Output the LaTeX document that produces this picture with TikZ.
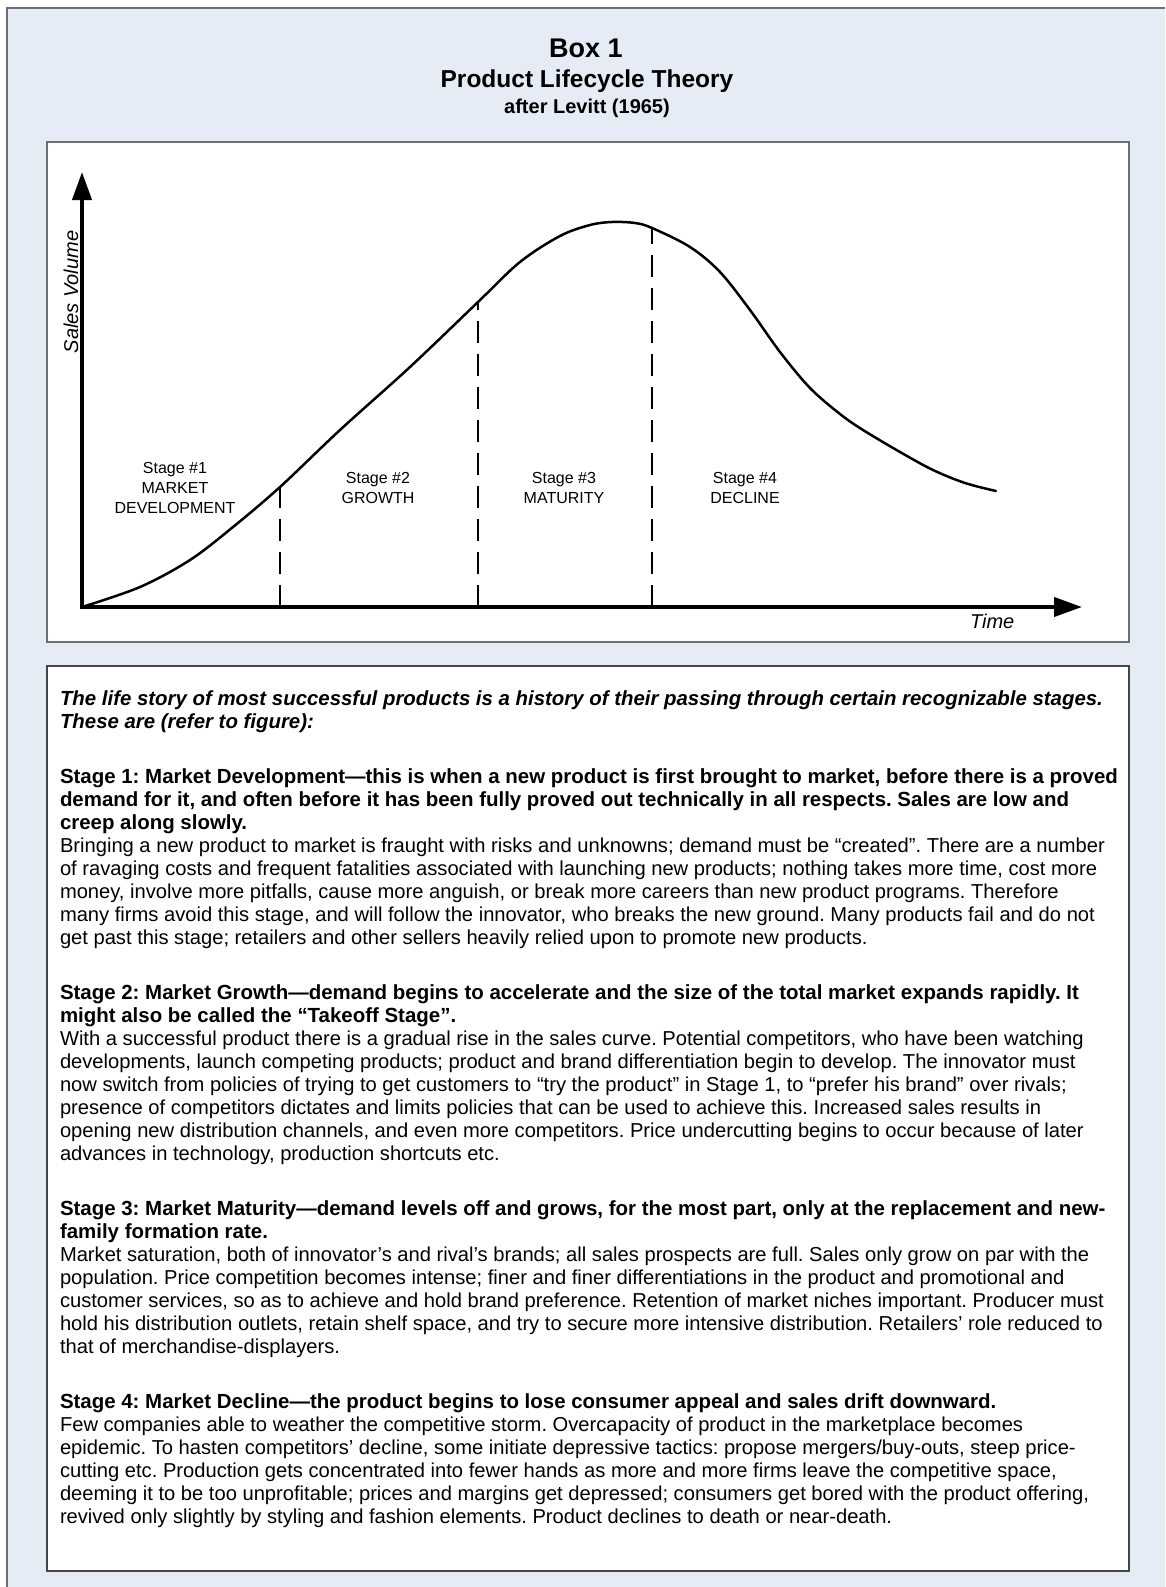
\documentclass[tikz,border=0pt]{standalone}
\usepackage{fontspec}
\setmainfont{Liberation Sans}
\usetikzlibrary{arrows.meta}
\definecolor{boxbg}{RGB}{229,236,246}
\definecolor{framegray}{RGB}{110,110,110}
\definecolor{textframe}{RGB}{70,70,70}
\begin{document}
\frenchspacing
\begin{tikzpicture}[x=1pt,y=-1pt,
  every node/.style={inner sep=0pt,outer sep=0pt},
  titlebig/.style={anchor=base,font=\fontsize{27}{32}\selectfont\bfseries},
  titlemid/.style={anchor=base,font=\fontsize{24.5}{29}\selectfont\bfseries},
  titlesmall/.style={anchor=base,font=\fontsize{20}{24}\selectfont\bfseries},
  stagelbl/.style={anchor=base,font=\fontsize{16}{20}\selectfont},
  axislbl/.style={font=\fontsize{20}{24}\selectfont\itshape},
  body/.style={anchor=base west,font=\fontsize{20.15}{23}\selectfont},
  bodyb/.style={anchor=base west,font=\fontsize{20.45}{23}\selectfont\bfseries},
  bodybi/.style={anchor=base west,font=\fontsize{20.4}{23}\selectfont\bfseries\itshape},
  salescurve/.style={line width=2.5pt,line cap=round},
  stagediv/.style={line width=1.6pt,dash pattern=on 22pt off 11pt},
  panel/.style={draw=framegray,line width=1.5pt,fill=white},
]
\useasboundingbox (0,0) rectangle (1165,1587);

% outer tinted panel, open to the right and bottom
\fill[boxbg] (7,8) rectangle (1165,1587);
\draw[framegray,line width=2pt] (7,1587) -- (7,8) -- (1165,8);

% title block
\node[titlebig]   (ttl1) at (586,58)  {Box 1};
\node[titlemid]   (ttl2) at (587,88)  {Product Lifecycle Theory};
\node[titlesmall] (ttl3) at (587,113) {after Levitt (1965)};

% chart panel
\draw[panel] (47,142) rectangle (1129,642);

% axes
\coordinate (O) at (82,607);
\coordinate (ytip) at (82,172);
\coordinate (xtip) at (1082,607);
\draw[line width=4pt,{Triangle[length=28pt,width=19pt]}-{Triangle[length=28pt,width=19pt]}]
  (ytip) -- (O) -- (xtip);

\node[axislbl,rotate=90,anchor=base] (ylab) at (78,292) {Sales Volume};
\node[axislbl,anchor=base west] (xlab) at (970,628) {Time};

% stage boundaries
\coordinate (d1b) at (280,607); \coordinate (d1t) at (280,487);
\coordinate (d2b) at (478,607); \coordinate (d2t) at (478,302);
\coordinate (d3b) at (652,607); \coordinate (d3t) at (652,228);
\draw[stagediv] (d1b) -- (d1t);
\draw[stagediv] (d2b) -- (d2t);
\draw[stagediv] (d3b) -- (d3t);

% sales curve
\draw[salescurve] plot[smooth,tension=0.55] coordinates {
  (82,607) (140,587) (190,560) (233,527) (280,487) (340,430) (410,367)
  (478,302) (520,262) (560,236) (590,225) (612,222) (635,223) (652,228)
  (690,247) (720,272) (750,310) (780,352) (810,388) (840,414) (863,430)
  (900,452) (933,470) (965,483) (996,491)};

% stage captions
\node[stagelbl] (s1a) at (175,473) {Stage \#1};
\node[stagelbl] (s1b) at (175,493) {MARKET};
\node[stagelbl] (s1c) at (175,513) {DEVELOPMENT};
\node[stagelbl] (s2a) at (378,483) {Stage \#2};
\node[stagelbl] (s2b) at (378,503) {GROWTH};
\node[stagelbl] (s3a) at (564,483) {Stage \#3};
\node[stagelbl] (s3b) at (564,503) {MATURITY};
\node[stagelbl] (s4a) at (745,483) {Stage \#4};
\node[stagelbl] (s4b) at (745,503) {DECLINE};

% text panel
\draw[panel,draw=textframe] (47,666) rectangle (1129,1571);

\node[bodybi] (i1) at (60,705) {The life story of most successful products is a history of their passing through certain recognizable stages.};
\node[bodybi] (i2) at (60,728) {These are (refer to figure):};

\node[bodyb] (a1) at (60,783) {Stage 1: Market Development—this is when a new product is first brought to market, before there is a proved};
\node[bodyb] (a2) at (60,806) {demand for it, and often before it has been fully proved out technically in all respects. Sales are low and};
\node[bodyb] (a3) at (60,829) {creep along slowly.};
\node[body] (a4) at (60,852) {Bringing a new product to market is fraught with risks and unknowns; demand must be “created”. There are a number};
\node[body] (a5) at (60,875) {of ravaging costs and frequent fatalities associated with launching new products; nothing takes more time, cost more};
\node[body] (a6) at (60,898) {money, involve more pitfalls, cause more anguish, or break more careers than new product programs. Therefore};
\node[body] (a7) at (60,921) {many firms avoid this stage, and will follow the innovator, who breaks the new ground. Many products fail and do not};
\node[body] (a8) at (60,944) {get past this stage; retailers and other sellers heavily relied upon to promote new products.};

\node[bodyb] (b1) at (60,999) {Stage 2: Market Growth—demand begins to accelerate and the size of the total market expands rapidly. It};
\node[bodyb] (b2) at (60,1022) {might also be called the “Takeoff Stage”.};
\node[body] (b3) at (60,1045) {With a successful product there is a gradual rise in the sales curve. Potential competitors, who have been watching};
\node[body] (b4) at (60,1068) {developments, launch competing products; product and brand differentiation begin to develop. The innovator must};
\node[body] (b5) at (60,1091) {now switch from policies of trying to get customers to “try the product” in Stage 1, to “prefer his brand” over rivals;};
\node[body] (b6) at (60,1114) {presence of competitors dictates and limits policies that can be used to achieve this. Increased sales results in};
\node[body] (b7) at (60,1137) {opening new distribution channels, and even more competitors. Price undercutting begins to occur because of later};
\node[body] (b8) at (60,1160) {advances in technology, production shortcuts etc.};

\node[bodyb] (c1) at (60,1215) {Stage 3: Market Maturity—demand levels off and grows, for the most part, only at the replacement and new-};
\node[bodyb] (c2) at (60,1238) {family formation rate.};
\node[body] (c3) at (60,1261) {Market saturation, both of innovator’s and rival’s brands; all sales prospects are full. Sales only grow on par with the};
\node[body] (c4) at (60,1284) {population. Price competition becomes intense; finer and finer differentiations in the product and promotional and};
\node[body] (c5) at (60,1307) {customer services, so as to achieve and hold brand preference. Retention of market niches important. Producer must};
\node[body] (c6) at (60,1330) {hold his distribution outlets, retain shelf space, and try to secure more intensive distribution. Retailers’ role reduced to};
\node[body] (c7) at (60,1353) {that of merchandise-displayers.};

\node[bodyb] (e1) at (60,1408) {Stage 4: Market Decline—the product begins to lose consumer appeal and sales drift downward.};
\node[body] (e2) at (60,1431) {Few companies able to weather the competitive storm. Overcapacity of product in the marketplace becomes};
\node[body] (e3) at (60,1454) {epidemic. To hasten competitors’ decline, some initiate depressive tactics: propose mergers/buy-outs, steep price-};
\node[body] (e4) at (60,1477) {cutting etc. Production gets concentrated into fewer hands as more and more firms leave the competitive space,};
\node[body] (e5) at (60,1500) {deeming it to be too unprofitable; prices and margins get depressed; consumers get bored with the product offering,};
\node[body] (e6) at (60,1523) {revived only slightly by styling and fashion elements. Product declines to death or near-death.};
\end{tikzpicture}
\end{document}
